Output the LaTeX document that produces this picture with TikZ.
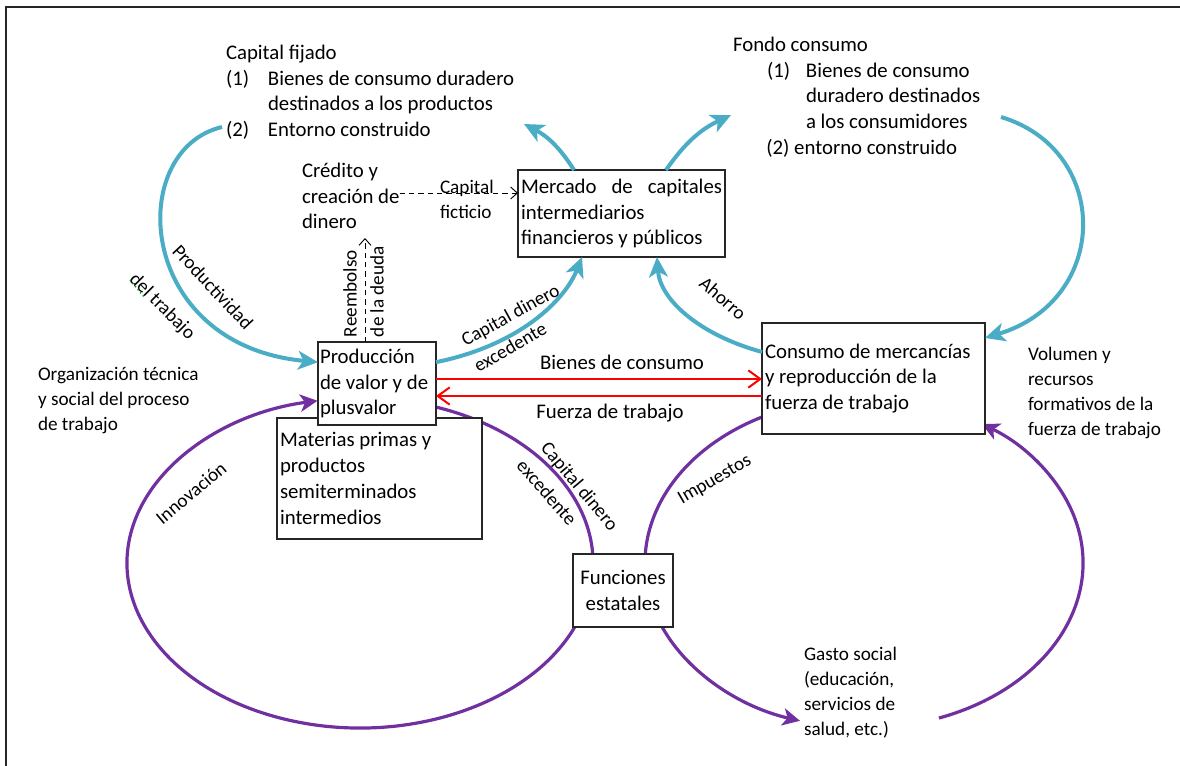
\documentclass[tikz,border=0pt]{standalone}
\usepackage{fontspec}
\setmainfont{Carlito}
\usetikzlibrary{arrows.meta,calc}
\definecolor{cblue}{RGB}{75,172,198}
\definecolor{cpurple}{RGB}{112,48,160}
\definecolor{cframe}{RGB}{38,38,38}
\tikzset{
  bigf/.style={font=\fontsize{15.6pt}{19.3pt}\selectfont},
  smallf/.style={font=\fontsize{14.4pt}{18.8pt}\selectfont},
  box/.style={draw=cframe, line width=0.9pt, fill=white, inner xsep=2.25pt, inner ysep=0pt,
     outer sep=0pt, anchor=north west, align=flush left, bigf},
  lbl/.style={inner sep=0pt, outer sep=0pt, align=left, bigf},
  rlbl/.style={inner sep=0pt, outer sep=0pt, smallf},
  bluearr/.style={draw=cblue, line width=3pt, -{Stealth[length=15pt,width=14pt,inset=4pt]}},
  purparr/.style={draw=cpurple, line width=2.4pt, -{Stealth[length=13pt,width=13pt,inset=3.5pt]}},
  redarr/.style={draw=red, line width=1.5pt, -{Straight Barb[length=9pt,width=13pt]}},
  dasharr/.style={draw=black, line width=0.7pt, dash pattern=on 4pt off 3pt, -{Straight Barb[length=5pt,width=9pt]}}
}
\begin{document}
\begin{tikzpicture}[x=0.75pt,y=-0.75pt]
\useasboundingbox (0,0) rectangle (1180,765);
% frame
\draw[cframe, line width=1.5pt] (6,770) -- (6,7) -- (1185,7);

% ellipse centres and free ends
\coordinate (lc) at (360,563);
\coordinate (rc) at (864,563);
\coordinate (cfend) at (222,127);
\coordinate (fcend) at (1001,117);
\coordinate (tl) at (524,124);
\coordinate (tr) at (731,115);
\coordinate (r1) at (0,379);
\coordinate (r2) at (0,396);
\coordinate (dy) at (0,193);

% purple loops
\draw[purparr] ([shift={(-71:233 and 165)}]lc) arc[start angle=-71, end angle=259.5, x radius=233, y radius=165];
\draw[purparr] ([shift={(242.2:219 and 165)}]rc) arc[start angle=242.2, end angle=107, x radius=219, y radius=165];
\draw[purparr] ([shift={(70:219 and 165)}]rc) arc[start angle=70, end angle=-57.4, x radius=219, y radius=165];

% boxes
\node[box, text width=149.25pt, minimum height=90.75pt] (mat) at (277,418)
  {Materias primas y\\productos\\semiterminados\\intermedios};
\node[box, inner xsep=1.5pt, text width=85.5pt, minimum height=62.25pt] (prod) at (318,342)
  {Producción\\\mbox{de valor y de}\\plusvalor};
\node[box, text width=150.75pt, minimum height=65.25pt] (merc) at (518,170)
  {\makebox[\linewidth][s]{Mercado de capitales}\\intermediarios\\financieros y públicos};
\node[box, text width=162.75pt, minimum height=83.25pt] (cons) at (762,323)
  {Consumo de mercancías\\y reproducción de la\\fuerza de trabajo};
\node[box, text width=70.5pt, minimum height=54.75pt, align=center] (func) at (573,554)
  {Funciones\\estatales};

% blue arrows
\draw[bluearr] (cfend) .. controls (125,150) and (135,345) .. ([yshift=16pt]prod.west);
\draw[bluearr] ([yshift=16pt]prod.east) .. controls (520,345) and (565,300) .. ([xshift=-29.6pt]merc.south);
\draw[bluearr] ([yshift=19.9pt]cons.west) .. controls (700,335) and (660,300) .. ([xshift=26.6pt]merc.south);
\draw[bluearr] ([xshift=-35.6pt]merc.north) to[bend right=15] (tl);
\draw[bluearr] ([xshift=33.4pt]merc.north) to[bend left=15] (tr);
\draw[bluearr] (fcend) .. controls (1111,150) and (1111,300) .. ([yshift=30.4pt]cons.east);

% red arrows
\draw[redarr] (prod.east |- r1) -- (cons.west |- r1);
\draw[redarr] (cons.west |- r2) -- (prod.east |- r2);

% text blocks
\node[lbl, anchor=north west] (capfij) at (226,45)
  {Capital fijado\\\makebox[31.5pt][l]{(1)}Bienes de consumo duradero\\\hspace*{31.5pt}destinados a los productos\\\makebox[31.5pt][l]{(2)}Entorno construido};
\node[lbl, anchor=north west] (fondo) at (733,37)
  {Fondo consumo\\\hspace*{25.5pt}\makebox[29.25pt][l]{(1)}Bienes de consumo\\\hspace*{54.75pt}duradero destinados\\\hspace*{54.75pt}a los consumidores\\\hspace*{25pt}(2) entorno construido};
\node[lbl, anchor=north west] (credito) at (302,163) {Crédito y\\creación de\\dinero};
\node[lbl, smallf, anchor=north west] (ficticio) at (440,180) {Capital\\ficticio};
\node[lbl, smallf, anchor=north west] (organiz) at (38,367) {Organización técnica\\y social del proceso\\de trabajo};
\node[lbl, smallf, anchor=north west] (volumen) at (1028,347) {Volumen y\\recursos\\formativos de la\\fuerza de trabajo};
\node[lbl, smallf, anchor=north west] (gasto) at (804,647) {Gasto social\\(educación,\\servicios de\\salud, etc.)};
\node[lbl] (bienes) at (622,362) {Bienes de consumo};
\node[lbl] (fuerza) at (610,413) {Fuerza de trabajo};

% dashed arrows
\draw[dasharr] (credito.east |- dy) -- (merc.west |- dy);
\draw[dasharr] ([xshift=-9pt]prod.north) -- ++(0,-104);

% rotated labels
\node[rlbl, rotate=-47] (productividad) at (213,287) {Productividad};
\node[rlbl, rotate=-45] (deltrab) at (162,307) {del trabajo};
\draw[green!55!black, dotted, line width=1pt] (130,280) -- (145,298);
\node[rlbl, rotate=29] (capdin1) at (511,316) {Capital dinero};
\node[rlbl, rotate=30] (exced1) at (510,347) {excedente};
\node[rlbl, rotate=-41] (ahorro) at (723,298) {Ahorro};
\node[rlbl, rotate=-50] (capdin2) at (579,487) {Capital dinero};
\node[rlbl, rotate=-49] (exced2) at (547,492) {excedente};
\node[rlbl, rotate=30] (impuestos) at (715,480) {Impuestos};
\node[rlbl, rotate=40] (innov) at (191,493) {Innovación};
\node[rlbl, rotate=90, anchor=west] (reemb) at (350,337) {Reembolso};
\node[rlbl, rotate=90, anchor=west] (deuda) at (377,337) {de la deuda};
\end{tikzpicture}
\end{document}
